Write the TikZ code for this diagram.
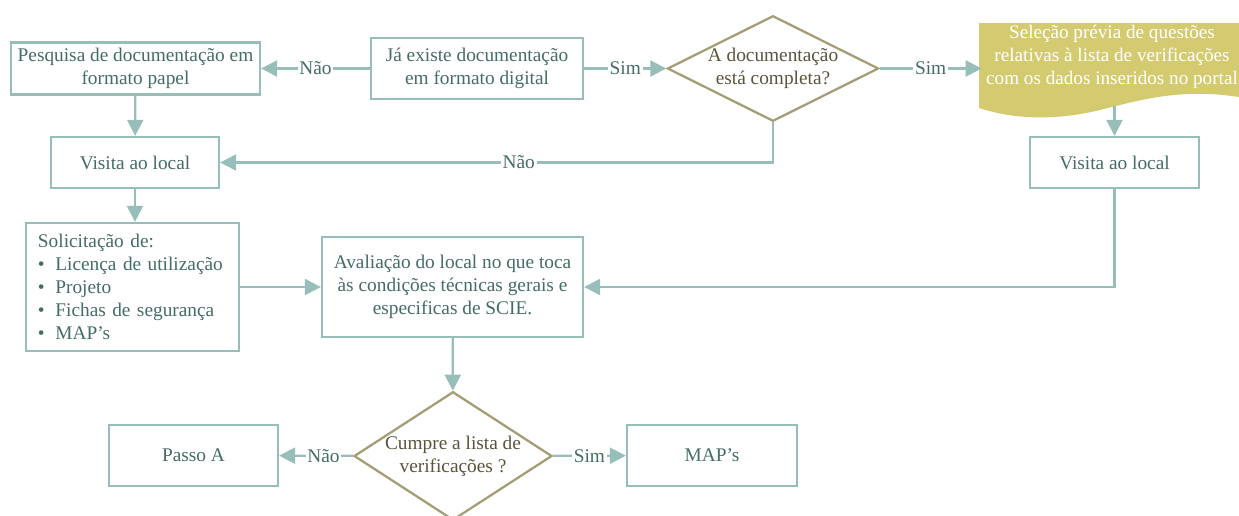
\documentclass[tikz,border=0pt]{standalone}
\usepackage{fontspec}
\setmainfont{Liberation Serif}
\usetikzlibrary{positioning,calc,shapes.geometric,arrows.meta}

\definecolor{lineteal}{RGB}{152,190,186}
\definecolor{textteal}{RGB}{68,108,102}
\definecolor{decline}{RGB}{163,158,118}
\definecolor{dectext}{RGB}{88,84,60}
\definecolor{docfill}{RGB}{212,203,112}

\begin{document}
\begin{tikzpicture}[
		box/.style={draw=lineteal, line width=1.3pt, rectangle, text=textteal, align=center, font=\fontsize{11}{13}\selectfont},
		decision/.style={draw=decline, line width=1.3pt, diamond, inner sep=0pt, text=dectext, align=center, font=\fontsize{11}{13}\selectfont},
		line/.style={-{Triangle[length=0.32cm,width=0.32cm]}, draw=lineteal, line width=1.3pt},
		lbl/.style={fill=white, inner sep=1pt, text=textteal, font=\fontsize{11}{13}\selectfont}
		]
		\useasboundingbox (0,0) rectangle (24.78,-10.3);
		
		% ======================
		% TOP ROW
		% ======================
		\node[box, minimum width=4.98cm, minimum height=1.02cm] (pesquisa) at (2.71,-1.37) {Pesquisa de documentação em\\formato papel};
		
		\node[box, minimum width=4.24cm, minimum height=1.22cm] (digital) at (9.54,-1.37) {Já existe documentação\\em formato digital};
		
		\node[decision, aspect=2] (completa) at (15.46,-1.37) {A documentação\\está completa?};
		
		% document shape
		\fill[docfill] (19.58,-0.46) -- (24.78,-0.46) -- (24.78,-1.94)
			.. controls (23.6,-1.76) and (22.8,-2.0) .. (22.0,-2.2)
			.. controls (21.0,-2.44) and (20.2,-2.36) .. (19.58,-2.16) -- cycle;
		\node[text=white, align=center, inner sep=0pt, minimum width=5.2cm, font=\fontsize{10.9}{13}\selectfont] (selecao) at (22.24,-1.14)
		{Seleção prévia de questões\\relativas à lista de verificações\\com os dados inseridos no portal};
		\coordinate (selecaob) at (22.29,-2.12);
		
		% ======================
		% VISITS
		% ======================
		\node[box, minimum width=3.36cm, minimum height=1.02cm] (visitaL) at (2.70,-3.25) {Visita ao local};
		
		\node[box, minimum width=3.38cm, minimum height=1.02cm] (visitaR) at (22.29,-3.25) {Visita ao local};
		
		% ======================
		% MIDDLE ROW
		% ======================
		\node[box, align=left, text width=3.78cm, inner xsep=0.24cm, minimum height=2.56cm] (solicitacao) at (2.65,-5.74)
		{Solicitação de:\\
		\textbullet\hspace{0.55em}Licença de utilização\\
		\textbullet\hspace{0.55em}Projeto\\
		\textbullet\hspace{0.55em}Fichas de segurança\\
		\textbullet\hspace{0.55em}MAP’s};
		
		\node[box, minimum width=5.22cm, minimum height=2.0cm] (avaliacao) at (9.05,-5.74)
		{Avaliação do local no que toca\\às condições técnicas gerais e\\especificas de SCIE.};
		
		% ======================
		% BOTTOM ROW
		% ======================
		\node[decision, aspect=1.54] (cumpre) at (9.06,-9.12) {Cumpre a lista de\\verificações ?};
		
		\node[box, minimum width=3.38cm, minimum height=1.22cm] (passoA) at (3.87,-9.11) {Passo A};
		
		\node[box, minimum width=3.4cm, minimum height=1.22cm] (maps) at (14.24,-9.11) {MAP’s};
		
		% ======================
		% CONNECTIONS
		% ======================
		\draw[line] (digital) -- node[lbl] {Não} (pesquisa);
		\draw[line] (digital) -- node[lbl] {Sim} (completa);
		\draw[line] (completa.east) -- node[lbl] {Sim} (completa.east -| selecao.west);
		\draw[line] (completa.south) |- node[lbl, pos=0.73] {Não} (visitaL.east);
		\draw[line] (pesquisa) -- (visitaL);
		\draw[line] (selecaob) -- (visitaR);
		\draw[line] (visitaL.south) -- (visitaL.south |- solicitacao.north);
		\draw[line] (solicitacao) -- (avaliacao);
		\draw[line] (visitaR.south) |- (avaliacao.east);
		\draw[line] (avaliacao) -- (cumpre);
		\draw[line] (cumpre) -- node[lbl, pos=0.4] {Não} (passoA);
		\draw[line] (cumpre) -- node[lbl, pos=0.5] {Sim} (maps);
		
	\end{tikzpicture}
\end{document}
